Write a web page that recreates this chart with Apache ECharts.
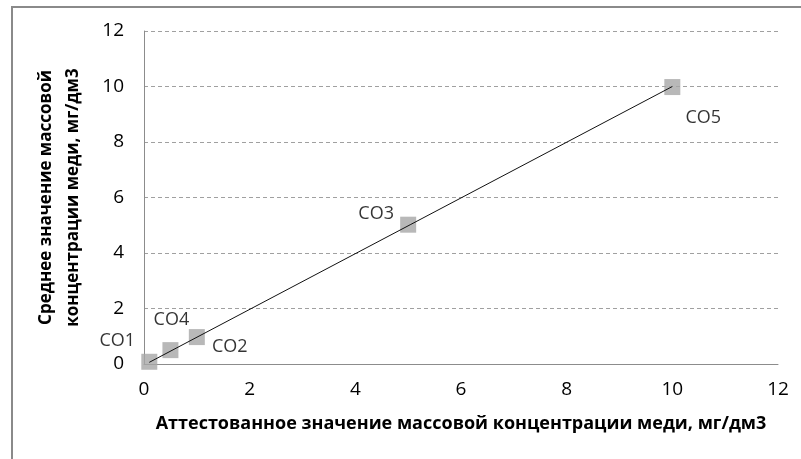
<!DOCTYPE html>
<html><head><meta charset="utf-8">
<script src="https://cdn.jsdelivr.net/npm/echarts@6/dist/echarts.min.js"></script>
<style>html,body{margin:0;padding:0;background:#fff}#c{width:801px;height:459px}</style>
</head><body><div id="c"></div>
<script>
const pointNames = ['СО1', 'СО4', 'СО2', 'СО3', 'СО5'];
const xValues = [0.1, 0.5, 1.0, 5.0, 10.0];
const yValues = [0.08, 0.5, 0.97, 5.02, 9.98];
const trendX = [0.1, 10.0];
const trendY = [0.06, 10.0];
const labelOffsets = [[-32, -21], [1, -30], [33, 10], [-32, -11], [31, 31]];
const xTicks = [0, 2, 4, 6, 8, 10, 12];
const yTicks = [0, 2, 4, 6, 8, 10, 12];
const xTitle = 'Аттестованное значение массовой концентрации меди, мг/дм3';
const yTitle = 'Среднее значение массовой\nконцентрации меди, мг/дм3';

const font = 'Open Sans';
const chart = echarts.init(document.getElementById('c'));
chart.setOption({
  animation: false,
  backgroundColor: '#fff',
  textStyle: {fontFamily: font},
  graphic: [{type: 'rect', shape: {x: 12, y: 7, width: 900, height: 600},
    style: {fill: 'none', stroke: '#8a8a8a', lineWidth: 2}, silent: true}],
  grid: {left: 144, right: 23, top: 31, bottom: 95},
  xAxis: {
    type: 'value', min: xTicks[0], max: xTicks[xTicks.length - 1], interval: 2,
    name: xTitle, nameLocation: 'middle', nameGap: 51,
    nameTextStyle: {fontFamily: font, fontWeight: 'bold', fontSize: 18, color: '#000'},
    axisLine: {show: true, lineStyle: {color: '#8c8c8c', width: 1}},
    axisTick: {show: false},
    splitLine: {show: false},
    axisLabel: {fontFamily: font, fontSize: 19, color: '#000', margin: 16}
  },
  yAxis: {
    type: 'value', min: yTicks[0], max: yTicks[yTicks.length - 1], interval: 2,
    name: yTitle, nameLocation: 'middle', nameGap: 57, nameRotate: 90,
    nameTextStyle: {fontFamily: font, fontWeight: 'bold', fontSize: 17, color: '#000', lineHeight: 27},
    axisLine: {show: true, lineStyle: {color: '#8c8c8c', width: 1}},
    axisTick: {show: false},
    splitLine: {show: true, lineStyle: {color: '#a0a0a0', type: [4, 3], width: 1}},
    axisLabel: {fontFamily: font, fontSize: 19, color: '#000', margin: 20}
  },
  series: [
    {
      type: 'scatter', symbol: 'rect', symbolSize: 16,
      itemStyle: {color: '#a6a6a6'},
      data: xValues.map((x, i) => ({
        value: [x, yValues[i]],
        label: {show: true, formatter: pointNames[i], position: 'inside', offset: labelOffsets[i],
          fontFamily: font, fontSize: 18, color: '#000'}
      })),
      z: 2
    },
    {
      type: 'line', data: trendX.map((x, i) => [x, trendY[i]]),
      symbol: 'none', lineStyle: {color: '#111', width: 1}, z: 3
    }
  ]
});
</script></body></html>
